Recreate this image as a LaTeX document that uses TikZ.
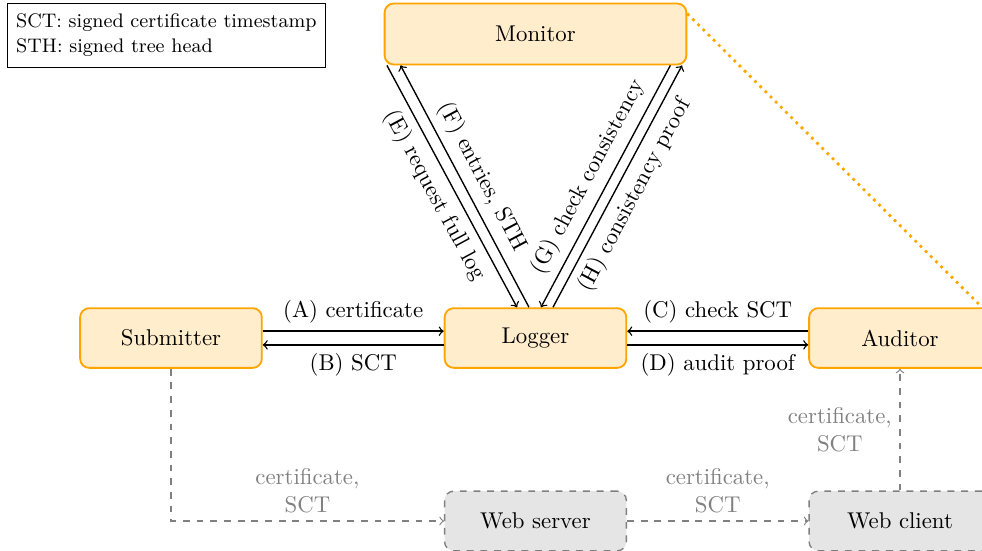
\documentclass[tikz,border=0pt]{standalone}
\definecolor{logorange}{RGB}{255,165,0}

\begin{document}
\begin{tikzpicture}[line width=0.6pt,
  party/.style={draw=logorange,fill=logorange!20,thick,rounded corners=4pt,
    minimum width=2.8cm,minimum height=0.92cm},
  client/.style={draw=gray,fill=gray!20,dashed,semithick,rounded corners=4pt,
    minimum width=2.8cm,minimum height=0.92cm},
  leak/.style={->,dashed,gray,line width=0.5pt},
  leaktext/.style={text=gray,align=center}]
\useasboundingbox (-8.252,-3.282) rectangle (6.881,5.209);
% ---------- parties ----------
\node[party] (logger) at (0,0) {Logger};
\node[party] (submitter) at (-5.617,0) {Submitter};
\node[party] (auditor) at (5.617,0) {Auditor};
\node[party,minimum width=4.65cm,minimum height=0.94cm] (monitor) at (0,4.685) {Monitor};
\node[client] (webserver) at (0,-2.82) {Web server};
\node[client] (webclient) at (5.617,-2.82) {Web client};
% ---------- legend ----------
\node[draw,line width=0.4pt,anchor=north west,align=left,inner xsep=3.8pt,inner ysep=4.6pt,
  font=\fontsize{8.6}{11}\selectfont] (legend) at (-8.144,5.162)
  {SCT: signed certificate timestamp\\STH: signed tree head};
% ---------- submitter / auditor ----------
\draw[->] ([yshift=3pt]submitter.east) -- ([yshift=3pt]logger.west) node[midway,above] {(A) certificate};
\draw[<-] ([yshift=-3pt]submitter.east) -- ([yshift=-3pt]logger.west) node[midway,below] {(B) SCT};
\draw[<-] ([yshift=3pt]logger.east) -- ([yshift=3pt]auditor.west) node[midway,above] {(C) check SCT};
\draw[->] ([yshift=-3pt]logger.east) -- ([yshift=-3pt]auditor.west) node[midway,below] {(D) audit proof};
% ---------- monitor ----------
\draw[->] ([xshift=0.05cm]monitor.south west) -- ([xshift=-0.285cm]logger.north)
  node[midway,below,sloped] {(E) request full log};
\draw[->] ([xshift=-0.1cm]logger.north) -- ([xshift=0.26cm]monitor.south west)
  node[midway,above,sloped] {(F) entries, STH};
\draw[->] ([xshift=-0.26cm]monitor.south east) -- ([xshift=0.085cm]logger.north)
  node[midway,above,sloped] {(G) check consistency};
\draw[->] ([xshift=0.27cm]logger.north) -- ([xshift=-0.08cm]monitor.south east)
  node[midway,below,sloped] {(H) consistency proof};
\draw[logorange,very thick,dotted] ([yshift=-0.17cm]monitor.north east) -- ([xshift=-0.15cm]auditor.north east);
% ---------- certificate flow ----------
\draw[leak] (submitter.south) |- (webserver.west) node[pos=0.75,above,leaktext] {certificate,\\SCT};
\draw[leak] (webserver) -- (webclient) node[midway,above,leaktext] {certificate,\\SCT};
\draw[leak] (webclient) -- (auditor) node[midway,left,leaktext] {certificate,\\SCT};
\end{tikzpicture}
\end{document}
